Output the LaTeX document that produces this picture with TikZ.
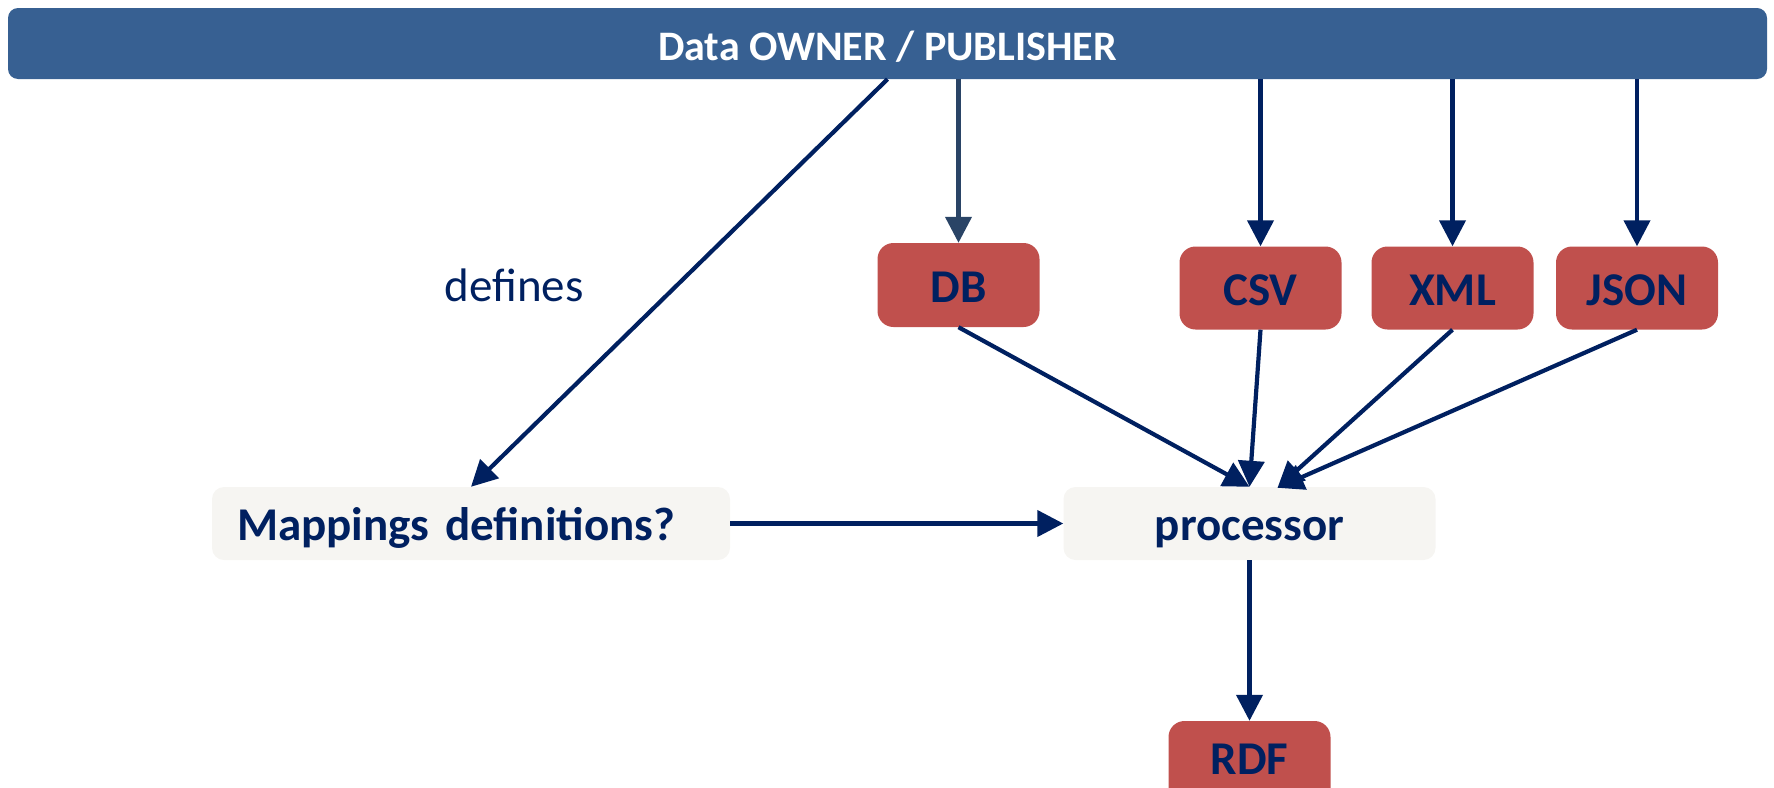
\documentclass[tikz,border=0pt]{standalone}
\usepackage{fontspec}
\setmainfont{Carlito}
\usetikzlibrary{arrows.meta,calc}
\definecolor{barblue}{HTML}{376092}
\definecolor{boxred}{HTML}{C0504D}
\definecolor{navy}{HTML}{002060}
\definecolor{slate}{HTML}{2A4466}
\definecolor{paper}{HTML}{F6F5F2}
\begin{document}
\begin{tikzpicture}[x=1pt,y=-1pt,
  label47/.style={font=\fontsize{47}{56}\selectfont\bfseries, text=navy,
    text height=45pt, text depth=11pt},
  srcbox/.style={fill=boxred, rounded corners=16pt, minimum width=162pt,
    minimum height=83pt, inner sep=0pt, label47},
  stage/.style={fill=paper, rounded corners=12pt, minimum height=73pt,
    inner sep=0pt, label47},
  flow/.style={draw=navy, line width=4.2pt,
    -{Triangle[length=26pt,width=26pt]}},
]
\useasboundingbox (0,0) rectangle (1774,787);
\clip (0,0) rectangle (1774,787);

% owner / publisher banner
\node[fill=barblue, rounded corners=10pt, minimum width=1759pt,
  minimum height=71pt, inner sep=0pt, text=white,
  font=\fontsize{42}{50}\selectfont\bfseries,
  text height=40pt, text depth=7pt] (bar) at (887.5,43.5) {Data OWNER / PUBLISHER};

% data sources
\node[srcbox, minimum height=84pt] (db) at (958.5,285) {DB};
\node[srcbox] (csv) at (1260.5,288) {CSV};
\node[srcbox] (xml) at (1452.5,288) {XML};
\node[srcbox] (json) at (1637,288) {JSON};

% processing stages
\node[stage, text width=468pt, align=left, inner xsep=25pt] (map) at (471,523.5) {Mappings definitions?};
\node[stage, minimum width=372pt] (proc) at (1249.5,523.5) {processor};
\node[srcbox, minimum height=88pt, text height=40pt, text depth=22pt] (rdf) at (1249.5,765) {RDF};

\node[anchor=base, font=\fontsize{47}{56}\selectfont, text=navy, inner sep=0pt] (def) at (514,301) {defines};

% publisher links
\draw[flow] (bar.south) -- (map.north);
\draw[flow, draw=slate, fill=slate] (db |- bar.south) -- (db.north);
\draw[flow] (csv |- bar.south) -- (csv.north);
\draw[flow] (xml |- bar.south) -- (xml.north);
\draw[flow] (json |- bar.south) -- (json.north);

% sources into the processor
\draw[flow] (db.south) -- (proc.north);
\draw[flow] (csv.south) -- (proc.north);
\draw[flow] (xml.south) -- ($(proc.north)+(28,1)$);
\draw[flow] (json.south) -- ($(proc.north)+(28,1)$);

% mappings into processor, processor output
\draw[flow] (map.east) -- (proc.west);
\draw[flow] (proc.south) -- (rdf.north);
\end{tikzpicture}
\end{document}
